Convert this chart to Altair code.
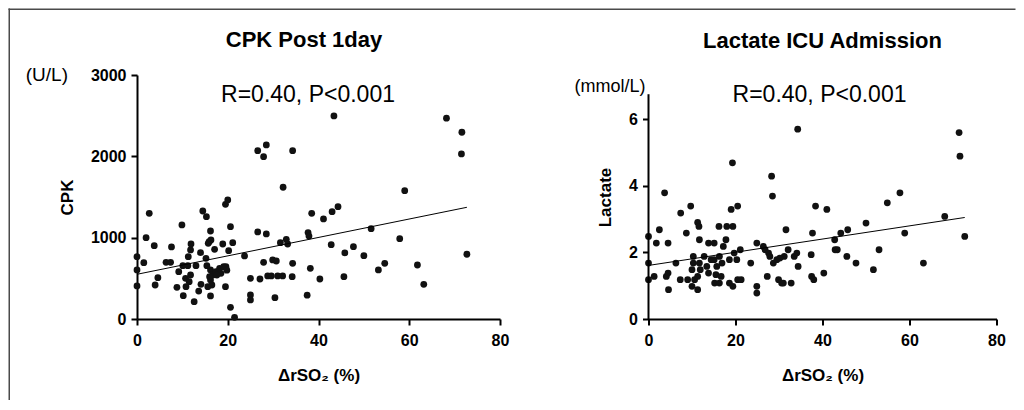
import altair as alt
import pandas as pd

# ---------------- data ----------------
cpk_x = [0, 0, 0, 1.5, 2.0, 2.7, 3.8, 4.0, 4.6, 6.4, 7.4, 7.6, 8.8, 9.2, 9.9, 10.1, 10.2, 10.7, 10.8,
         11.2, 11.3, 11.5, 11.8, 11.8, 11.9, 12.6, 13.0, 13.6, 14.0, 14.1, 14.5, 15.3, 15.2, 15.4, 15.6,
         15.7, 15.9, 16.2, 16.2, 16.2, 16.2, 16.3, 16.5, 16.7, 17.1, 17.4, 18.2, 18.5, 18.9, 19.1, 19.5,
         20.0, 19.5, 19.6, 20.2, 20.6, 21.1, 20.6, 21.5, 23.7, 25.0, 25.0, 25.0, 26.6, 27.9, 28.5, 26.6,
         28.5, 27.1, 27.9, 28.8, 29.6, 29.9, 30.4, 30.7, 31.0, 31.6, 32.1, 32.2, 32.9, 33.2, 34.3, 34.3,
         34.2, 37.5, 37.7, 37.9, 38.2, 38.5, 40.3, 16.0, 17.6, 19.8,
         43.4, 68.2, 71.6, 71.5, 59.0, 41.1, 43.0, 44.3, 51.6, 42.8, 45.8, 47.7, 50.0, 57.9, 72.7, 45.6,
         53.2, 54.6, 61.8, 63.2]
cpk_y = [766, 603, 406, 693, 1000, 1300, 902, 418, 508, 697, 697, 886, 390, 582, 1156, 656, 287, 500, 397,
         656, 766, 459, 541, 849, 922, 213, 656, 344, 816, 426, 1328, 1258, 746, 656, 397,
         931, 951, 1082, 603, 480, 283, 972, 418, 541, 857, 582, 623, 562, 922, 643, 1410,
         1464, 397, 643, 840, 1135, 938, 144, 21, 775, 500, 295, 234, 2070, 1996, 2140, 1070,
         1046, 492, 697, 529, 529, 726, 262, 713, 529, 938, 529, 1620, 980, 922, 2070, 685,
         520, 293, 1062, 1020, 623, 1300, 492, 520, 540, 600,
         2497, 2469, 2296, 2030, 1578, 1230, 1320, 1381, 1111, 914, 812, 889, 779, 988, 796, 520,
         603, 685, 664, 426]

lac_x = [34.3, 19.3, 28.3, 28.5, 3.7, 9.7, 7.4, 20.5, 19.0, 38.4, 11.3, 11.6, 2.5, 8.7, 16.2, 18.0, 19.4,
         31.6, 37.7, 0, 1.8, 4.5, 11.7, 13.8, 15.1, 17.8, 17.2, 24.9, 26.4, 21.1, 26.8, 32.1, 27.6, 19.7,
         18.6, 20.3, 10.3, 12.8, 16.3, 27.9, 31.2, 33.5, 34.1, 37.4, 0, 6.3, 10.3, 11.7, 14.4, 15.1, 16.9,
         15.7, 13.4, 10.0, 11.9, 23.5, 28.7, 29.5, 30.2, 34.4, 13.8, 15.5, 16.7, 4.1, 4.5, 1.3, 0, 7.3,
         9.0, 10.6, 11.3, 15.2, 16.3, 18.6, 19.4, 20.5, 21.3, 10.0, 11.3, 4.6, 24.9, 24.9, 27.3, 29.9,
         30.6, 31.0, 32.8, 37.5, 38.0,
         71.4, 71.6, 57.8, 54.9, 41.0, 68.1, 50.0, 44.2, 45.8, 58.9, 42.8, 72.7, 42.9, 43.4, 53.0, 45.6,
         47.7, 63.2, 51.7, 40.3]
lac_y = [5.70, 4.69, 4.29, 3.69, 3.79, 3.39, 3.18, 3.39, 3.29, 3.39, 2.90, 2.78, 2.68, 2.58, 2.78, 2.78, 2.78,
         2.68, 2.58, 2.48, 2.28, 2.28, 2.38, 2.28, 2.28, 2.38, 2.18, 2.28, 2.18, 2.08, 2.08, 2.08, 1.98, 1.98,
         1.78, 1.78, 1.88, 1.88, 1.88, 1.88, 1.88, 1.88, 1.98, 1.93, 1.68, 1.68, 1.68, 1.68, 1.78, 1.78, 1.68,
         1.58, 1.58, 1.48, 1.48, 1.68, 1.68, 1.78, 1.83, 1.58, 1.38, 1.33, 1.28, 1.28, 1.38, 1.28, 1.18, 1.18,
         1.18, 1.18, 1.28, 1.08, 1.08, 1.08, 0.98, 1.18, 1.18, 0.98, 0.88, 0.88, 0.98, 0.78, 1.28, 1.18,
         1.08, 1.08, 1.08, 1.28, 1.18,
         5.60, 4.89, 3.79, 3.49, 3.29, 3.08, 2.88, 2.58, 2.68, 2.58, 2.38, 2.48, 2.08, 2.08, 2.08, 1.88,
         1.68, 1.68, 1.48, 1.38]

x_ticks = [0, 20, 40, 60, 80]
cpk_ticks = [0, 1000, 2000, 3000]
lac_ticks = [0, 2, 4, 6]
lac_axis_top = 6.75

x_title = "ΔrSO₂ (%)"
titles = ["CPK Post 1day", "Lactate ICU Admission"]
stats = ["R=0.40, P<0.001", "R=0.40, P<0.001"]
units = ["(U/L)", "(mmol/L)"]
y_titles = ["CPK", "Lactate"]

FONT = "Liberation Sans"
FRAME = "#4a4a4a"

one = pd.DataFrame({"k": [0]})


def text_layer(txt, px, py, size, weight="normal", align="center", baseline="middle"):
    return alt.Chart(one).mark_text(
        font=FONT, fontSize=size, fontWeight=weight, align=align, baseline=baseline, color="black"
    ).encode(x=alt.value(px), y=alt.value(py), text=alt.value(txt))


def frame_rect(px1, px2, py1, py2):
    # thin filled rectangle used as a frame line
    return alt.Chart(one).mark_rect(color=FRAME, strokeWidth=0).encode(
        x=alt.value(px1), x2=alt.value(px2), y=alt.value(py1), y2=alt.value(py2))


def panel(xs, ys, ymax, yticks, ytitle, w, h, extra, show_domain=True):
    df = pd.DataFrame({"x": xs, "y": ys})
    xenc = alt.X("x:Q", scale=alt.Scale(domain=[0, 80], nice=False),
                 axis=alt.Axis(values=x_ticks, title=x_title, labelPadding=7, titlePadding=19, format="d"))
    yenc = alt.Y("y:Q", scale=alt.Scale(domain=[0, ymax], nice=False),
                 axis=alt.Axis(values=yticks, title=ytitle, labelPadding=5, titlePadding=14, format="d",
                               domain=show_domain))
    pts = alt.Chart(df).mark_circle(size=46, color="#111111", opacity=1).encode(x=xenc, y=yenc)
    reg = alt.Chart(df).mark_line(color="black", strokeWidth=1).encode(x="x:Q", y="y:Q").transform_regression("x", "y")
    return alt.layer(pts, reg, *extra).properties(width=w, height=h)


left = panel(cpk_x, cpk_y, 3000, cpk_ticks, y_titles[0], 363, 244, [
    text_layer(titles[0], 167, -35, 22, "bold"),
    text_layer(stats[0], 171, 20, 23),
    text_layer(units[0], -69, 0, 19, align="right"),
    frame_rect(-128.5, -127, -66.5, 325),
    frame_rect(-128.5, 878.5, -66.5, -65),
])

# right panel: its y-axis line stops at lac_axis_top, drawn as a rule
lac_axis_line = alt.Chart(one).mark_rule(color="black", strokeWidth=2).encode(
    x=alt.value(0), y=alt.datum(0), y2=alt.datum(lac_axis_top))

right = panel(lac_x, lac_y, 244 / 33.3, lac_ticks, y_titles[1], 348, 244, [
    lac_axis_line,
    text_layer(titles[1], 174, -34, 22, "bold"),
    text_layer(stats[1], 171, 20, 23),
    text_layer(units[1], -3, 12, 18, align="right"),
], show_domain=False)

chart = alt.hconcat(left, right, spacing=148.5, bounds="flush").properties(padding=0).configure(
    background="white"
).configure_view(
    stroke="transparent"
).configure_axis(
    grid=False, domainColor="black", domainWidth=2, tickColor="black", tickWidth=2, tickSize=6,
    labelFont=FONT, labelFontSize=16, labelFontWeight="bold", labelColor="black", labelFlush=False,
    titleFont=FONT, titleFontSize=17, titleFontWeight="bold", titleColor="black",
)

chart.save("out.html", embed_options={"renderer": "svg", "actions": False})
